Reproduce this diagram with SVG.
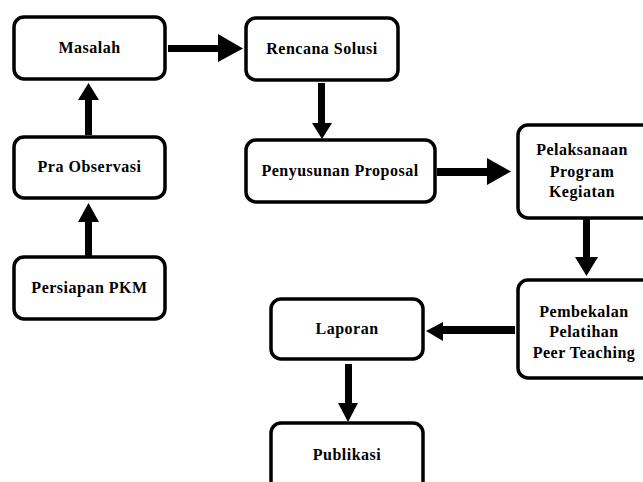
<svg xmlns="http://www.w3.org/2000/svg" width="643" height="482" viewBox="0 0 643 482">
<style>
.box{fill:#fff;stroke:#000;stroke-width:3.5}
.lbl{font-family:'Liberation Serif','Times New Roman','DejaVu Serif',serif;font-weight:bold;font-size:16px;letter-spacing:0.5px;fill:#000;text-anchor:middle}
.arr{fill:#000;stroke:none}
</style>
<rect width="643" height="482" fill="#fff"/>
<g id="connectors">
<polygon class="arr" points="168,45 218,45 218,34 243,48.5 218,62 218,52 168,52"/>
<polygon class="arr" points="85,135 85,100 78,100 88.5,83 99,100 92,100 92,135"/>
<polygon class="arr" points="85,257 85,222 78,222 88.5,203 99,222 92,222 92,257"/>
<polygon class="arr" points="318,83 318,123 312,123 322,139 332,123 325,123 325,83"/>
<polygon class="arr" points="437,168 487,168 487,158 511,171.5 487,185 487,176 437,176"/>
<polygon class="arr" points="583,219 583,257 575,257 586.5,276 598,257 590,257 590,219"/>
<polygon class="arr" points="515,326 443,326 443,322 426,331 443,341 443,334 515,334"/>
<polygon class="arr" points="345,364 345,403 338,403 348,422 358,403 352,403 352,364"/>
</g>
<g id="masalah"><rect class="box" x="14" y="17" width="151" height="62" rx="10"/><text class="lbl" x="89.5" y="53">Masalah</text></g>
<g id="rencana-solusi"><rect class="box" x="246" y="18" width="152" height="62" rx="10"/><text class="lbl" x="322" y="54">Rencana Solusi</text></g>
<g id="pra-observasi"><rect class="box" x="14" y="137" width="151" height="61" rx="10"/><text class="lbl" x="89.5" y="172">Pra Observasi</text></g>
<g id="persiapan-pkm"><rect class="box" x="14" y="257" width="151" height="62" rx="10"/><text class="lbl" x="89.5" y="293">Persiapan PKM</text></g>
<g id="penyusunan-proposal"><rect class="box" x="246" y="140" width="189" height="62" rx="10"/><text class="lbl" x="340" y="176">Penyusunan Proposal</text></g>
<g id="pelaksanaan"><rect class="box" x="518" y="125" width="140" height="93" rx="10"/><text class="lbl" x="582" y="155">Pelaksanaan</text><text class="lbl" x="582" y="177">Program</text><text class="lbl" x="582" y="197">Kegiatan</text></g>
<g id="pembekalan"><rect class="box" x="518" y="280" width="140" height="98" rx="10"/><text class="lbl" x="584" y="317">Pembekalan</text><text class="lbl" x="584" y="337">Pelatihan</text><text class="lbl" x="584" y="358">Peer Teaching</text></g>
<g id="laporan"><rect class="box" x="271" y="299" width="152" height="60" rx="10"/><text class="lbl" x="347" y="334">Laporan</text></g>
<g id="publikasi"><rect class="box" x="271" y="423" width="152" height="70" rx="10"/><text class="lbl" x="347" y="460">Publikasi</text></g>
</svg>
